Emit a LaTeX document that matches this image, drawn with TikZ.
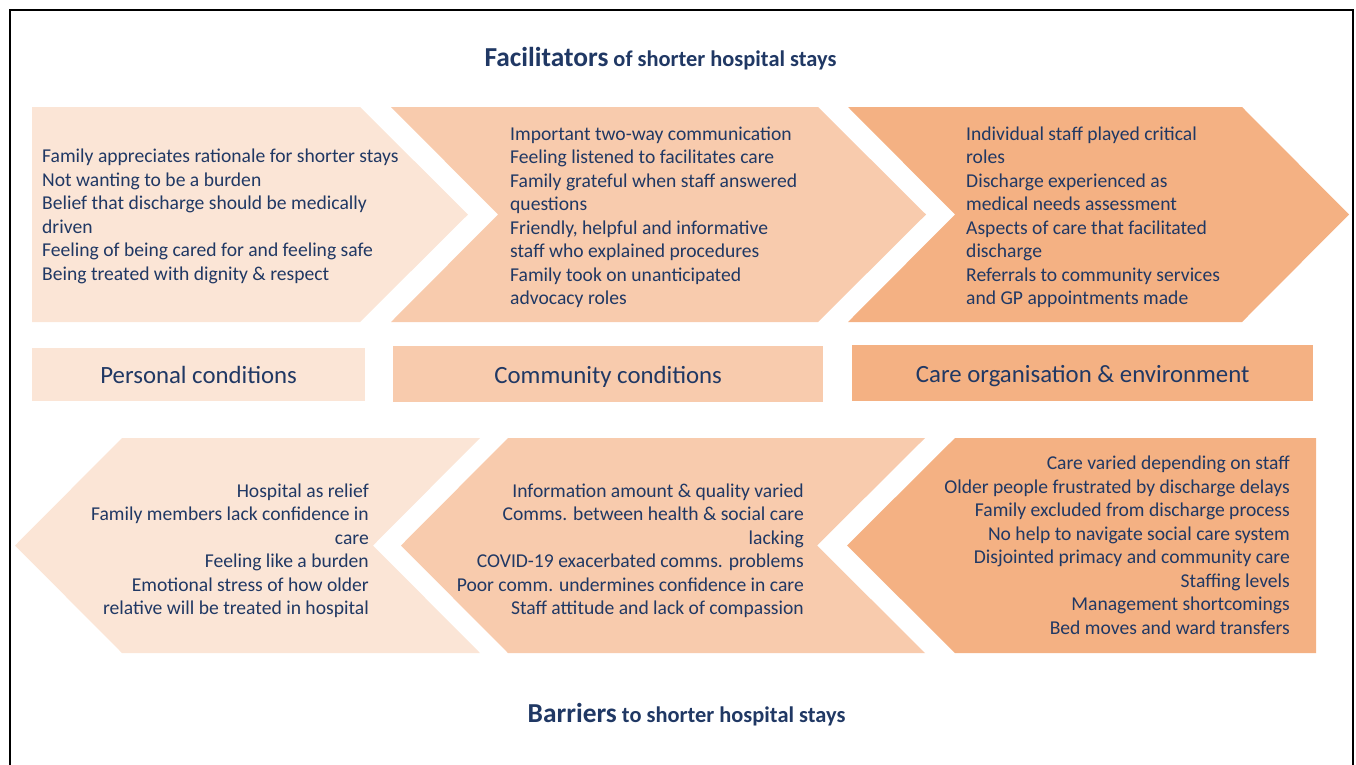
\documentclass[tikz,border=0pt]{standalone}
\usepackage{fontspec}
\setmainfont{Carlito}
\usepackage{xcolor}
\definecolor{colorPersonal}{HTML}{FBE5D6}
\definecolor{colorCommunity}{HTML}{F8CBAD}
\definecolor{colorCare}{HTML}{F4B183}
\definecolor{colorText}{HTML}{203864}
\usetikzlibrary{positioning}

\begin{document}
\begin{tikzpicture}[x=1pt, y=-1pt,
  every node/.style={text=colorText, inner sep=0pt},
  factors/.style={font=\fontsize{19.6}{23.5}\selectfont},
  facil/.style={factors, align=left, anchor=west},
  barrier/.style={factors, align=right, anchor=east},
  catbox/.style={font=\fontsize{24.8}{28}\selectfont, anchor=north west, text height=20pt, text depth=2pt},
  heading/.style={font=\bfseries\fontsize{22.4}{26}\selectfont}]
\useasboundingbox (0,0) rectangle (1356,764);
\draw[line width=2pt] (10,780) -- (10,10) -- (1353,10) -- (1353,780);

% facilitators
\node[heading] (facTitle) at (660.5,59) {{\fontsize{27.4}{30}\selectfont Facilitators} of shorter hospital stays};
\fill[colorPersonal] (32,107) -- (360,107) -- (468,214.5) -- (360,322) -- (32,322) -- cycle;
\fill[colorCommunity] (391,107) -- (818,107) -- (926,214.5) -- (818,322) -- (391,322) -- (498,214.5) -- cycle;
\fill[colorCare] (848,107) -- (1242,107) -- (1349,214.5) -- (1242,322) -- (848,322) -- (955,214.5) -- cycle;
\node[facil] (facPersonal) at (42,216.5) {Family appreciates rationale for shorter stays\\Not wanting to be a burden\\Belief that discharge should be medically\\driven\\Feeling of being cared for and feeling safe\\Being treated with dignity \& respect};
\node[facil] (facCommunity) at (510,217.5) {Important two-way communication\\Feeling listened to facilitates care\\Family grateful when staff answered\\questions\\Friendly, helpful and informative\\staff who explained procedures\\Family took on unanticipated\\advocacy roles};
\node[facil] (facCare) at (966,217.5) {Individual staff played critical\\roles\\Discharge experienced as\\medical needs assessment\\Aspects of care that facilitated\\discharge\\Referrals to community services\\and GP appointments made};

% categories
\node[catbox, fill=colorPersonal, minimum width=333pt, minimum height=53pt] (personal) at (32,348) {Personal conditions};
\node[catbox, fill=colorCommunity, minimum width=430pt, minimum height=56pt] (community) at (393,346) {Community conditions};
\node[catbox, fill=colorCare, minimum width=461pt, minimum height=56pt] (care) at (852,345) {Care organisation \& environment};

% barriers
\fill[colorPersonal] (122,438) -- (480,438) -- (373,545.5) -- (480,653) -- (122,653) -- (15,545.5) -- cycle;
\fill[colorCommunity] (508,438) -- (925,438) -- (817,545.5) -- (925,653) -- (508,653) -- (401,545.5) -- cycle;
\fill[colorCare] (955,438) -- (1316,438) -- (1316,653) -- (955,653) -- (847,545.5) -- cycle;
\node[barrier] (barPersonal) at (369,551) {Hospital as relief\\Family members lack confidence in\\care\\Feeling like a burden\\Emotional stress of how older\\relative will be treated in hospital};
\node[barrier] (barCommunity) at (804,551) {Information amount \& quality varied\\Comms. between health \& social care\\lacking\\COVID-19 exacerbated comms. problems\\Poor comm. undermines confidence in care\\Staff attitude and lack of compassion};
\node[barrier] (barCare) at (1290,545.5) {Care varied depending on staff\\Older people frustrated by discharge delays\\Family excluded from discharge process\\No help to navigate social care system\\Disjointed primacy and community care\\Staffing levels\\Management shortcomings\\Bed moves and ward transfers};
\node[heading] (barTitle) at (686.5,715) {{\fontsize{27.4}{30}\selectfont Barriers} to shorter hospital stays};
\end{tikzpicture}
\end{document}
